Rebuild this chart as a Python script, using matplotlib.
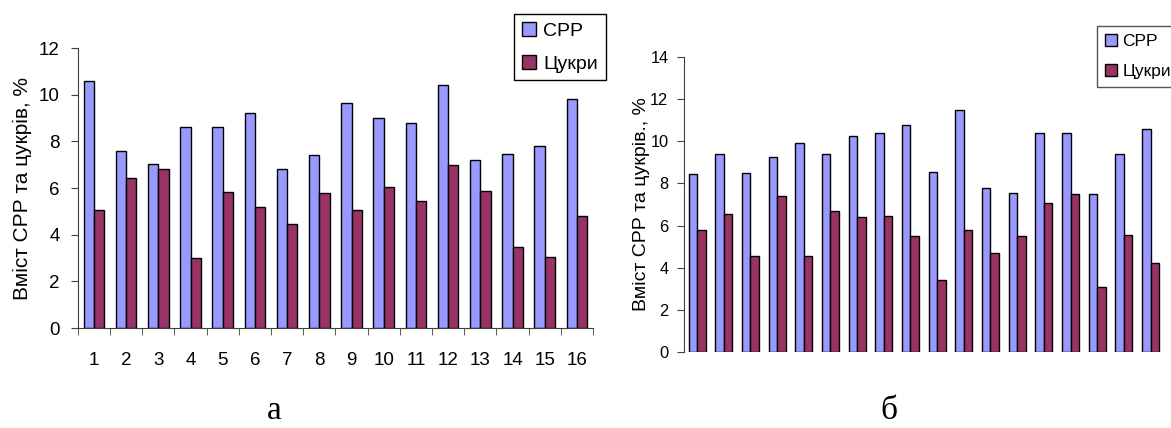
#!/usr/bin/env python3
"""
Вміст СРР та цукрів: дві стовпчикові діаграми (а, б).
"""
import numpy as np
import matplotlib
matplotlib.use("Agg")
import matplotlib.pyplot as plt

plt.rcParams['font.family'] = ['Liberation Sans', 'DejaVu Sans']

# --- дані, рис. а ---
samples_a = list(range(1, 17))
cpp_a = [10.6, 7.6, 7.05, 8.6, 8.6, 9.2, 6.8, 7.4, 9.65, 9.0, 8.8, 10.4, 7.2, 7.45, 7.8, 9.8]
sugar_a = [5.05, 6.45, 6.8, 3.0, 5.85, 5.2, 4.45, 5.8, 5.06, 6.06, 5.46, 7.0, 5.86, 3.46, 3.06, 4.8]

# --- дані, рис. б ---
samples_b = list(range(1, 19))
cpp_b = [8.43, 9.4, 8.48, 9.27, 9.9, 9.4, 10.27, 10.41, 10.76,
         8.56, 11.49, 7.77, 7.56, 10.41, 10.41, 7.48, 9.41, 10.57]
sugar_b = [5.77, 6.55, 4.56, 7.4, 4.56, 6.69, 6.41, 6.47, 5.49,
           3.42, 5.79, 4.71, 5.49, 7.07, 7.48, 3.07, 5.57, 4.21]

labels = ['СРР', 'Цукри']
C_CPP = '#9999FF'
C_SUG = '#993366'
AXCOL = '#404040'
W = 0.32

fig = plt.figure(figsize=(11.71, 4.28), dpi=100)


def draw_bars(ax, x, a, b):
    x = np.asarray(x)
    ax.bar(x - W / 2, a, W, color=C_CPP, edgecolor='black', linewidth=1, label=labels[0])
    ax.bar(x + W / 2, b, W, color=C_SUG, edgecolor='black', linewidth=1, label=labels[1])
    ax.set_xlim(x[0] - 0.5, x[-1] + 0.5)
    for s in ('top', 'right'):
        ax.spines[s].set_visible(False)
    ax.spines['left'].set_color(AXCOL)
    ax.spines['bottom'].set_color(AXCOL)
    ax.tick_params(axis='y', direction='out', length=5, color=AXCOL)


# --- а ---
ax1 = fig.add_axes([0.0665, 0.2336, 0.4399, 0.6542])
draw_bars(ax1, samples_a, cpp_a, sugar_a)
ax1.set_ylim(0, 12)
ax1.set_yticks(range(0, 13, 2))
ax1.set_xticks(samples_a)
ax1.set_xticks(np.arange(0.5, 17, 1), minor=True)
ax1.tick_params(axis='x', which='major', length=0, pad=17, labelsize=13.5)
ax1.tick_params(axis='x', which='minor', length=5, direction='out', color=AXCOL)
ax1.tick_params(axis='y', labelsize=13.5, pad=8)
ax1.set_ylabel('Вміст СРР та цукрів, %', fontsize=15, labelpad=5)
leg1 = ax1.legend(loc='upper right', bbox_to_anchor=(0.5175, 0.967),
                  bbox_transform=fig.transFigure, fontsize=14, frameon=True,
                  fancybox=False, edgecolor='black', framealpha=1,
                  handlelength=0.7, handleheight=0.7, handletextpad=0.4,
                  borderpad=0.4, labelspacing=0.8, borderaxespad=0)
leg1.get_frame().set_linewidth(1)

# --- б ---
ax2 = fig.add_axes([0.5839, 0.1776, 0.41, 0.6893])
draw_bars(ax2, samples_b, cpp_b, sugar_b)
ax2.spines['bottom'].set_visible(False)
ax2.set_ylim(0, 14)
ax2.set_yticks(range(0, 15, 2))
ax2.set_xticks([])
ax2.tick_params(axis='y', labelsize=11.8, pad=6)
ax2.set_ylabel('Вміст СРР та цукрів., %', fontsize=14, labelpad=0)
leg2 = ax2.legend(loc='upper left', bbox_to_anchor=(0.9368, 0.939),
                  bbox_transform=fig.transFigure, fontsize=12.5, frameon=True,
                  fancybox=False, edgecolor='#555555', framealpha=1,
                  handlelength=0.7, handleheight=0.7, handletextpad=0.3,
                  borderpad=0.45, labelspacing=0.85, borderaxespad=0)
leg2.get_frame().set_linewidth(1)

# підписи рисунків
fig.text(274 / 1171, 0.022, 'а', fontsize=24, family='Liberation Serif', ha='center', va='baseline')
fig.text(889 / 1171, 0.022, 'б', fontsize=24, family='Liberation Serif', ha='center', va='baseline')

fig.savefig('out.png', dpi=100)
